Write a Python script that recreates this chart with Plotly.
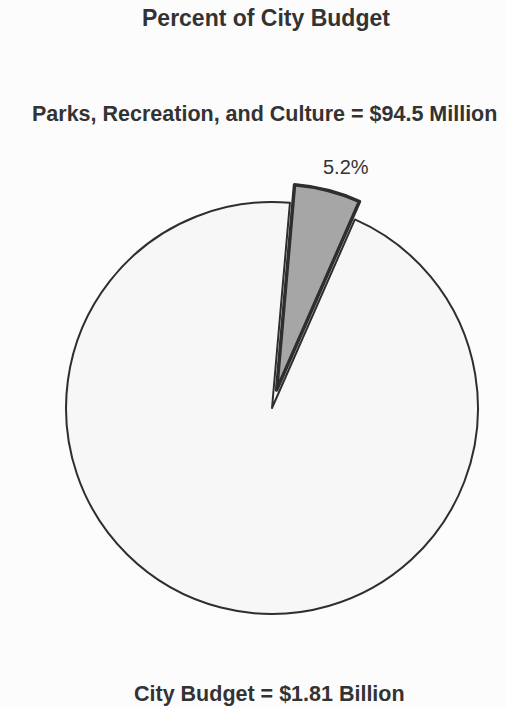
import plotly.graph_objects as go

labels = ["Parks, Recreation, and Culture", "Other City Budget"]
values = [5.2, 94.8]
slice_colors = ["#a6a6a6", "#f7f7f7"]
slice_line_widths = [3.5, 2]
pulls = [0.09, 0]

title_text = "Percent of City Budget"
subtitle_text = "Parks, Recreation, and Culture = $94.5 Million"
footer_text = "City Budget = $1.81 Billion"

W, H = 506, 708
FONT = "Arial, 'Liberation Sans', sans-serif"

fig = go.Figure(go.Pie(
    labels=labels,
    values=values,
    sort=False,
    direction="clockwise",
    rotation=5,
    pull=pulls,
    textinfo="none",
    marker=dict(colors=slice_colors,
                line=dict(color="#2e2e2e", width=slice_line_widths)),
    domain=dict(x=[47.5 / W, 496.5 / W], y=[75.5 / H, 524.5 / H]),
    showlegend=False,
    hoverinfo="skip",
))

pct_label = f"{values[0]:.1f}%"

fig.update_layout(
    width=W, height=H,
    margin=dict(l=0, r=0, t=0, b=0),
    paper_bgcolor="#fcfcfc",
    plot_bgcolor="#fcfcfc",
    font=dict(family=FONT, color="#333333"),
    annotations=[
        dict(text=f"<b>{title_text}</b>", x=266 / W, y=1 - 18 / H, xref="paper", yref="paper",
             showarrow=False, font=dict(size=23, family=FONT, color="#333333"),
             xanchor="center", yanchor="middle"),
        dict(text=f"<b>{subtitle_text}</b>", x=264 / W, y=1 - 114 / H, xref="paper", yref="paper",
             showarrow=False, font=dict(size=21.5, family=FONT, color="#333333"),
             xanchor="center", yanchor="middle"),
        dict(text=pct_label, x=346 / W, y=1 - 167 / H, xref="paper", yref="paper",
             showarrow=False, font=dict(size=20, family=FONT, color="#333333"),
             xanchor="center", yanchor="middle"),
        dict(text=f"<b>{footer_text}</b>", x=269 / W, y=1 - 694 / H, xref="paper", yref="paper",
             showarrow=False, font=dict(size=21.5, family=FONT, color="#333333"),
             xanchor="center", yanchor="middle"),
    ],
)

fig.write_html("out.html")
